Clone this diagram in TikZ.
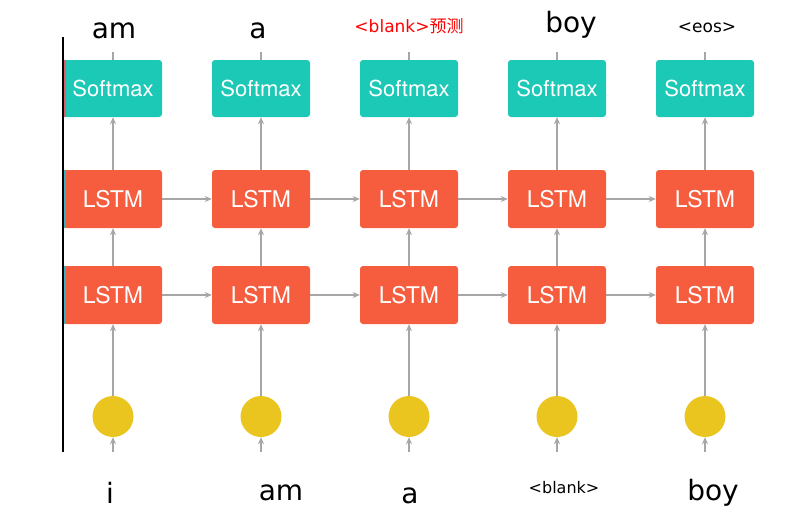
\documentclass[tikz,border=0pt]{standalone}
\usepackage{fontspec}
\usetikzlibrary{positioning,arrows.meta}
\newfontfamily\wordfont{DejaVu Sans}
\newfontfamily\cellfont{TeX Gyre Heros}
\newfontfamily\cjk{Noto Sans CJK SC}
\definecolor{smteal}{HTML}{1CC8B6}
\definecolor{lstmred}{HTML}{F65D3E}
\definecolor{embyellow}{HTML}{EAC51F}
\definecolor{flowgray}{HTML}{A6A6A6}
\definecolor{stripred}{HTML}{D9606A}
\definecolor{stripteal}{HTML}{3AAFC0}

\begin{document}
\begin{tikzpicture}[x=1pt,y=-1pt,
  cell/.style={rounded corners=3pt,text=white,inner sep=0pt,minimum width=98pt,minimum height=57pt,font=\cellfont\fontsize{22}{22}\selectfont},
  softmax/.style={cell,fill=smteal},
  lstm/.style={cell,fill=lstmred,minimum height=58pt,font=\cellfont\fontsize{23}{23}\selectfont},
  embed/.style={circle,fill=embyellow,minimum size=41pt,inner sep=0pt},
  flow/.style={draw=flowgray,line width=1.3pt,-{Stealth[length=7pt,width=6pt]}},
  word/.style={anchor=base,inner sep=0pt,font=\wordfont\fontsize{28}{28}\selectfont},
  token/.style={word,font=\wordfont\fontsize{17}{17}\selectfont}]
\useasboundingbox (0,0) rectangle (812,520);

% one column per time step
\foreach \i/\x in {1/113,2/261,3/409,4/557,5/705}{
  \node[softmax] (sm\i) at (\x,88.5) {Softmax};
  \node[lstm] (top\i) at (\x,199) {LSTM};
  \node[lstm] (bot\i) at (\x,295) {LSTM};
  \node[embed] (emb\i) at (\x,416.5) {};
  \coordinate (in\i) at (\x,452);
  \coordinate (out\i) at (\x,52);
  \draw[flow] (in\i) -- (emb\i);
  \draw[flow] (emb\i) -- (bot\i);
  \draw[flow] (bot\i) -- (top\i);
  \draw[flow] (top\i) -- (sm\i);
  \draw[draw=flowgray,line width=1.3pt] (sm\i) -- (out\i);
}
% recurrent links
\foreach \i/\j in {1/2,2/3,3/4,4/5}{
  \draw[flow] (top\i) -- (top\j);
  \draw[flow] (bot\i) -- (bot\j);
}

% cropped left edge
\fill[stripred] (63,60) rectangle (66,117);
\fill[stripteal] (63,170) rectangle (66,228);
\fill[stripteal] (63,266) rectangle (66,324);
\draw[line width=2.5pt] (63,37) -- (63,452);

% outputs
\node[word] (o1) at (114,38) {am};
\node[word] (o2) at (258,38) {a};
\node[token,text=red] (o3) at (409,32) {<blank>{\cjk 预测}};
\node[word] (o4) at (571,32) {boy};
\node[token] (o5) at (707,32) {<eos>};

% inputs
\node[word] (w1) at (110,503) {i};
\node[word] (w2) at (281,500) {am};
\node[word] (w3) at (410,503) {a};
\node[token,font=\wordfont\fontsize{16}{16}\selectfont] (w4) at (564,493) {<blank>};
\node[word] (w5) at (713,500) {boy};
\end{tikzpicture}
\end{document}
